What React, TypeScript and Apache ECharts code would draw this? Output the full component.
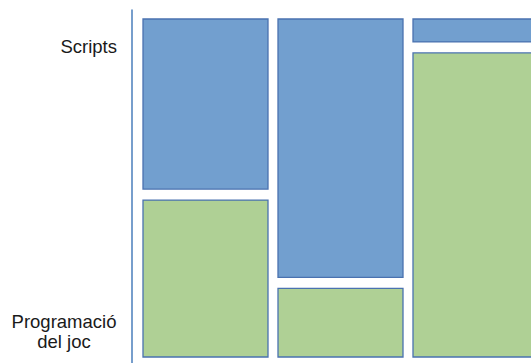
import React, { useEffect, useRef } from "react";
import * as echarts from "echarts";

// Columns of the mosaic (not labelled in the picture)
const columns = ["1", "2", "3"];
// Share of each column (per cent) for each row
const scripts = [52, 79, 7];
const programacio = [48, 21, 93];
// Row labels shown on the vertical axis, with the axis value where each one sits
const rowLabels = ["Programació del joc", "Scripts"];
const rowLabelValues = [8.8, 89.8];

const BLUE = "#729fcf";
const GREEN = "#afd095";
const EDGE = "#4a72b0";

export default function App() {
  const ref = useRef<HTMLDivElement>(null);
  useEffect(() => {
    if (!ref.current) return;
    const chart = echarts.init(ref.current, undefined, { renderer: "svg" });

    const makeRender = (isTop: boolean) => (params: any, api: any) => {
      const i = api.value(0);
      const s = api.value(1);
      const p = api.value(2);
      const xl = api.coord([i, 0])[0] + 5;
      const xr = api.coord([i + 1, 0])[0] - 5;
      const yTop = api.coord([0, 100])[1];
      const yBot = api.coord([0, 0])[1];
      const gap = 11;
      const H = yBot - yTop - gap;
      const blueH = (s / (s + p)) * H;
      const shape = isTop
        ? { x: xl, y: yTop, width: xr - xl, height: blueH }
        : { x: xl, y: yTop + blueH + gap, width: xr - xl, height: yBot - (yTop + blueH + gap) };
      return {
        type: "rect",
        shape,
        style: { fill: isTop ? BLUE : GREEN, stroke: EDGE, lineWidth: 1.3 },
      };
    };

    const data = columns.map((_, i) => [i, scripts[i], programacio[i]]);

    chart.setOption({
      animation: false,
      grid: [
        // the third column runs past the right edge of the picture
        { left: 138, top: 19, width: 393, height: 338 },
        { left: 132, top: 10, width: 10, height: 353 },
      ],
      xAxis: [
        { type: "value", gridIndex: 0, min: 0, max: 393 / 135, show: false },
        { type: "value", gridIndex: 1, min: 0, max: 1, show: false },
      ],
      yAxis: [
        { type: "value", gridIndex: 0, min: 0, max: 100, show: false },
        {
          type: "value",
          gridIndex: 1,
          min: 0,
          max: 100,
          axisLine: { show: true, lineStyle: { color: "#4a7ebb", width: 1.5 } },
          axisTick: { show: false },
          splitLine: { show: false },
          axisLabel: {
            customValues: rowLabelValues,
            margin: 15,
            color: "#1a1a1a",
            fontFamily: "Liberation Sans",
            fontSize: 18.5,
            lineHeight: 20,
            formatter: (v: number) => {
              const idx = rowLabelValues.indexOf(v);
              const label = idx >= 0 ? rowLabels[idx] : "";
              if (label === "Programació del joc") {
                return "{c|Programació}\n{c|del joc}";
              }
              return label;
            },
            rich: {
              c: {
                width: 106,
                align: "center",
                fontFamily: "Liberation Sans",
                fontSize: 18.5,
                lineHeight: 20,
                color: "#1a1a1a",
              },
            },
          },
        },
      ],
      series: [
        {
          name: "Scripts",
          type: "custom",
          xAxisIndex: 0,
          yAxisIndex: 0,
          renderItem: makeRender(true),
          encode: { x: 0, y: 1 },
          data,
          clip: false,
        },
        {
          name: "Programació del joc",
          type: "custom",
          xAxisIndex: 0,
          yAxisIndex: 0,
          renderItem: makeRender(false),
          encode: { x: 0, y: 2 },
          data,
          clip: false,
        },
      ],
    });
    return () => chart.dispose();
  }, []);
  return (
    <div
      ref={ref}
      style={{ position: "absolute", left: 0, top: 0, width: 531, height: 363, overflow: "hidden" }}
    />
  );
}
